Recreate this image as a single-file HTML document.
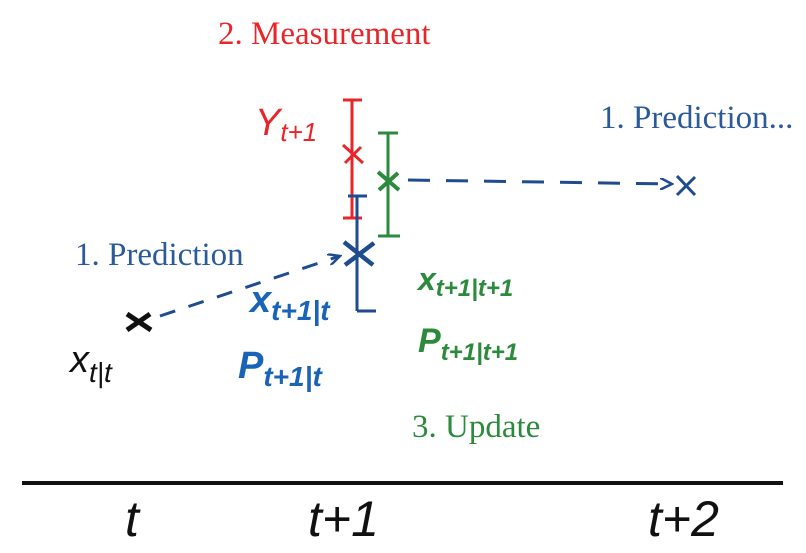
<!DOCTYPE html>
<html><head><style>
html,body{margin:0;padding:0;background:#fff;}
svg{display:block;}
.s{font-family:"Liberation Serif",serif;font-size:33px;}
.h{font-family:"Liberation Sans",sans-serif;font-style:italic;}
</style></head><body>
<svg width="806" height="553" viewBox="0 0 806 553" xmlns="http://www.w3.org/2000/svg">
<defs>
<marker id="a" markerWidth="14" markerHeight="12" refX="12" refY="6" orient="auto" markerUnits="userSpaceOnUse">
<path d="M0,0 L12,6 L0,12" fill="none" stroke="#1f4b8f" stroke-width="2.5"/>
</marker>
</defs>
<text x="218" y="44" fill="#e8262a" class="s">2. Measurement</text>
<text x="600" y="128" fill="#2a5a9a" class="s">1. Prediction...</text>
<text x="75" y="265" fill="#2a5a9a" class="s">1. Prediction</text>
<text x="412" y="437" fill="#2c8a3c" class="s">3. Update</text>

<g stroke="#e8262a" stroke-width="3" fill="none">
<line x1="352" y1="100" x2="352" y2="218"/>
<line x1="343" y1="100" x2="362" y2="100"/>
<line x1="343" y1="218" x2="362" y2="218"/>
<path d="M343,145 L363,163 M345,163 L361,147"/>
</g>
<g stroke="#2c8a3c" stroke-width="3" fill="none">
<line x1="388" y1="133" x2="388" y2="236"/>
<line x1="378" y1="133" x2="398" y2="133"/>
<line x1="378" y1="236" x2="400" y2="236"/>
<path d="M378,172 L399,190 M379,190 L398,173" stroke-width="4"/>
</g>
<g stroke="#1f4b8f" stroke-width="3" fill="none">
<line x1="357" y1="196" x2="357" y2="311"/>
<line x1="348" y1="196" x2="367" y2="196"/>
<line x1="357" y1="311" x2="376" y2="311"/>
<path d="M344,242 L373,265 M345,265 L374,243" stroke-width="4.5"/>
<line x1="160" y1="316" x2="340" y2="256" stroke-dasharray="16,14" marker-end="url(#a)"/>
<line x1="408" y1="180" x2="672" y2="184" stroke-dasharray="22,16" marker-end="url(#a)"/>
<path d="M677,176 L695,195 M677,195 L695,177"/>
</g>
<path d="M127,314 L151,330 M127,330 L150,314" stroke="#111" stroke-width="5" fill="none"/>

<text x="255" y="135" fill="#e8262a" class="h" font-size="38">Y<tspan font-size="26" dy="6">t+1</tspan></text>
<text x="250" y="312" fill="#1a64b8" class="h" font-size="38" font-weight="bold">x<tspan font-size="28" dy="8">t+1|t</tspan></text>
<text x="238" y="378" fill="#1a64b8" class="h" font-size="38" font-weight="bold">P<tspan font-size="28" dy="8">t+1|t</tspan></text>
<text x="418" y="290" fill="#2c8a3c" class="h" font-size="32" font-weight="bold">x<tspan font-size="24" dy="6">t+1|t+1</tspan></text>
<text x="418" y="352" fill="#2c8a3c" class="h" font-size="34" font-weight="bold">P<tspan font-size="24" dy="8">t+1|t+1</tspan></text>
<text x="70" y="372" fill="#111" class="h" font-size="38">x<tspan font-size="28" dy="10">t|t</tspan></text>

<line x1="22" y1="483" x2="783" y2="483" stroke="#111" stroke-width="4"/>
<text x="125" y="536" fill="#111" class="h" font-size="50">t</text>
<text x="308" y="536" fill="#111" class="h" font-size="50">t+1</text>
<text x="648" y="536" fill="#111" class="h" font-size="50">t+2</text>
</svg>
</body></html>
